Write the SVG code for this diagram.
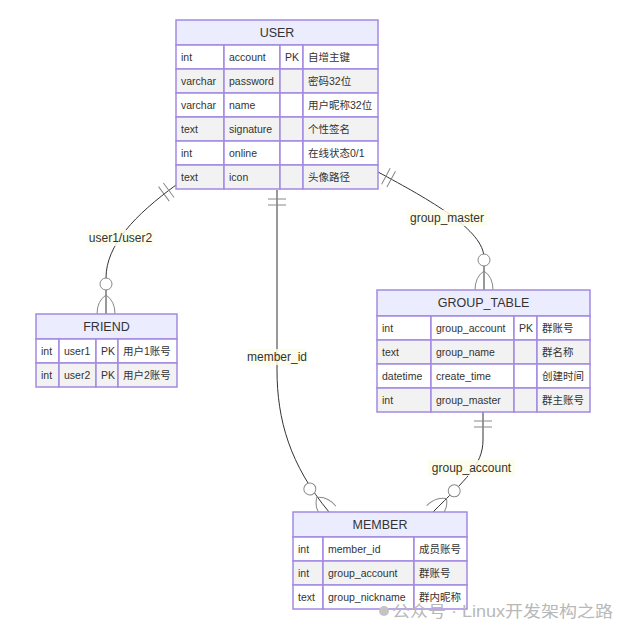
<svg xmlns="http://www.w3.org/2000/svg" width="634" height="637" viewBox="0 0 634 637">
<style>
text{font-family:"Liberation Sans","Noto Sans CJK SC",sans-serif;fill:#333}
.hd{fill:#ececff;stroke:#a28ae2;stroke-width:1.5}
.odd{fill:#ffffff;stroke:#a28ae2;stroke-width:1.5}
.even{fill:#f2f2f2;stroke:#a28ae2;stroke-width:1.5}
.ht{font-size:12.5px;text-anchor:middle;dominant-baseline:central}
.rt{font-size:10.5px;dominant-baseline:central}
.edge{fill:none;stroke:#333;stroke-width:1}
.lbg{fill:#fbfde9;opacity:0.85}
.lt{font-size:12px;text-anchor:middle;dominant-baseline:central}
.mk{fill:none;stroke:#888;stroke-width:1}
.wm{font-size:16px;fill:#b8b8b8}
</style>
<defs>
<marker id="one" markerUnits="userSpaceOnUse" orient="auto" refX="0" refY="0" markerWidth="1" markerHeight="1" overflow="visible">
<path class="mk" d="M9,-9 L9,9 M15,-9 L15,9"/>
</marker>
<marker id="many" markerUnits="userSpaceOnUse" orient="auto" refX="0" refY="0" markerWidth="1" markerHeight="1" overflow="visible">
<path class="mk" d="M0,9 Q-13,9 -19,0 Q-13,-9 0,-9"/>
<circle cx="-30" cy="0" r="6" fill="#fff" stroke="#888" stroke-width="1"/>
</marker>
</defs>

<g id="connectors">
<path class="edge" d="M176,185 C135,215 106,245 106,278 L106,314" marker-start="url(#one)" marker-end="url(#many)"/>
<path class="edge" d="M277,190 L277,370 C277,420 290,465 329,512" marker-start="url(#one)" marker-end="url(#many)"/>
<path class="edge" d="M378,172 C430,200 484,230 484,258 L484,290" marker-start="url(#one)" marker-end="url(#many)"/>
<path class="edge" d="M483,412 L483,440 C483,465 465,480 433,512" marker-start="url(#one)" marker-end="url(#many)"/>
<rect class="lbg" x="87" y="230" width="67" height="16"/>
<text class="lt" x="120.5" y="238">user1/user2</text>
<rect class="lbg" x="248" y="349" width="58" height="16"/>
<text class="lt" x="277" y="357">member_id</text>
<rect class="lbg" x="407" y="210" width="80" height="16"/>
<text class="lt" x="447" y="218">group_master</text>
<rect class="lbg" x="428" y="460" width="87" height="16"/>
<text class="lt" x="471.5" y="468">group_account</text>
</g>

<g id="USER">
<rect class="hd" x="176" y="20" width="202" height="25"/>
<text class="ht" x="277" y="32.5">USER</text>
<g>
<rect class="odd" x="176" y="45" width="48" height="24"/><rect class="odd" x="224" y="45" width="56" height="24"/><rect class="odd" x="280" y="45" width="23" height="24"/><rect class="odd" x="303" y="45" width="75" height="24"/>
<rect class="even" x="176" y="69" width="48" height="24"/><rect class="even" x="224" y="69" width="56" height="24"/><rect class="even" x="280" y="69" width="23" height="24"/><rect class="even" x="303" y="69" width="75" height="24"/>
<rect class="odd" x="176" y="93" width="48" height="24"/><rect class="odd" x="224" y="93" width="56" height="24"/><rect class="odd" x="280" y="93" width="23" height="24"/><rect class="odd" x="303" y="93" width="75" height="24"/>
<rect class="even" x="176" y="117" width="48" height="24"/><rect class="even" x="224" y="117" width="56" height="24"/><rect class="even" x="280" y="117" width="23" height="24"/><rect class="even" x="303" y="117" width="75" height="24"/>
<rect class="odd" x="176" y="141" width="48" height="24"/><rect class="odd" x="224" y="141" width="56" height="24"/><rect class="odd" x="280" y="141" width="23" height="24"/><rect class="odd" x="303" y="141" width="75" height="24"/>
<rect class="even" x="176" y="165" width="48" height="24"/><rect class="even" x="224" y="165" width="56" height="24"/><rect class="even" x="280" y="165" width="23" height="24"/><rect class="even" x="303" y="165" width="75" height="24"/>
</g>
<text class="rt" x="181" y="57">int</text><text class="rt" x="229" y="57">account</text><text class="rt" x="285" y="57">PK</text><text class="rt" x="308" y="57">自增主键</text>
<text class="rt" x="181" y="81">varchar</text><text class="rt" x="229" y="81">password</text><text class="rt" x="308" y="81">密码32位</text>
<text class="rt" x="181" y="105">varchar</text><text class="rt" x="229" y="105">name</text><text class="rt" x="308" y="105">用户昵称32位</text>
<text class="rt" x="181" y="129">text</text><text class="rt" x="229" y="129">signature</text><text class="rt" x="308" y="129">个性签名</text>
<text class="rt" x="181" y="153">int</text><text class="rt" x="229" y="153">online</text><text class="rt" x="308" y="153">在线状态0/1</text>
<text class="rt" x="181" y="177">text</text><text class="rt" x="229" y="177">icon</text><text class="rt" x="308" y="177">头像路径</text>
</g>

<g id="FRIEND">
<rect class="hd" x="36" y="314" width="141" height="25"/>
<text class="ht" x="106.5" y="326.5">FRIEND</text>
<rect class="odd" x="36" y="339" width="23" height="24"/><rect class="odd" x="59" y="339" width="37" height="24"/><rect class="odd" x="96" y="339" width="22" height="24"/><rect class="odd" x="118" y="339" width="59" height="24"/>
<rect class="even" x="36" y="363" width="23" height="24"/><rect class="even" x="59" y="363" width="37" height="24"/><rect class="even" x="96" y="363" width="22" height="24"/><rect class="even" x="118" y="363" width="59" height="24"/>
<text class="rt" x="41" y="351">int</text><text class="rt" x="64" y="351">user1</text><text class="rt" x="101" y="351">PK</text><text class="rt" x="123" y="351">用户1账号</text>
<text class="rt" x="41" y="375">int</text><text class="rt" x="64" y="375">user2</text><text class="rt" x="101" y="375">PK</text><text class="rt" x="123" y="375">用户2账号</text>
</g>

<g id="GROUP_TABLE">
<rect class="hd" x="377" y="290" width="213" height="26"/>
<text class="ht" x="483.5" y="303">GROUP_TABLE</text>
<rect class="odd" x="377" y="316" width="54" height="24"/><rect class="odd" x="431" y="316" width="83" height="24"/><rect class="odd" x="514" y="316" width="23" height="24"/><rect class="odd" x="537" y="316" width="53" height="24"/>
<rect class="even" x="377" y="340" width="54" height="24"/><rect class="even" x="431" y="340" width="83" height="24"/><rect class="even" x="514" y="340" width="23" height="24"/><rect class="even" x="537" y="340" width="53" height="24"/>
<rect class="odd" x="377" y="364" width="54" height="24"/><rect class="odd" x="431" y="364" width="83" height="24"/><rect class="odd" x="514" y="364" width="23" height="24"/><rect class="odd" x="537" y="364" width="53" height="24"/>
<rect class="even" x="377" y="388" width="54" height="24"/><rect class="even" x="431" y="388" width="83" height="24"/><rect class="even" x="514" y="388" width="23" height="24"/><rect class="even" x="537" y="388" width="53" height="24"/>
<text class="rt" x="382" y="328">int</text><text class="rt" x="436" y="328">group_account</text><text class="rt" x="519" y="328">PK</text><text class="rt" x="542" y="328">群账号</text>
<text class="rt" x="382" y="352">text</text><text class="rt" x="436" y="352">group_name</text><text class="rt" x="542" y="352">群名称</text>
<text class="rt" x="382" y="376">datetime</text><text class="rt" x="436" y="376">create_time</text><text class="rt" x="542" y="376">创建时间</text>
<text class="rt" x="382" y="400">int</text><text class="rt" x="436" y="400">group_master</text><text class="rt" x="542" y="400">群主账号</text>
</g>

<g id="MEMBER">
<rect class="hd" x="293" y="512" width="174" height="25"/>
<text class="ht" x="380" y="524.5">MEMBER</text>
<rect class="odd" x="293" y="537" width="30" height="24"/><rect class="odd" x="323" y="537" width="91" height="24"/><rect class="odd" x="414" y="537" width="53" height="24"/>
<rect class="even" x="293" y="561" width="30" height="24"/><rect class="even" x="323" y="561" width="91" height="24"/><rect class="even" x="414" y="561" width="53" height="24"/>
<rect class="odd" x="293" y="585" width="30" height="24"/><rect class="odd" x="323" y="585" width="91" height="24"/><rect class="odd" x="414" y="585" width="53" height="24"/>
<text class="rt" x="298" y="549">int</text><text class="rt" x="328" y="549">member_id</text><text class="rt" x="419" y="549">成员账号</text>
<text class="rt" x="298" y="573">int</text><text class="rt" x="328" y="573">group_account</text><text class="rt" x="419" y="573">群账号</text>
<text class="rt" x="298" y="597">text</text><text class="rt" x="328" y="597">group_nickname</text><text class="rt" x="419" y="597">群内昵称</text>
</g>

<g id="watermark">
<circle cx="384" cy="611" r="5" fill="#c4c4c4"/>
<text class="wm" x="392" y="617" textLength="221" lengthAdjust="spacingAndGlyphs">公众号 · Linux开发架构之路</text>
</g>
</svg>
